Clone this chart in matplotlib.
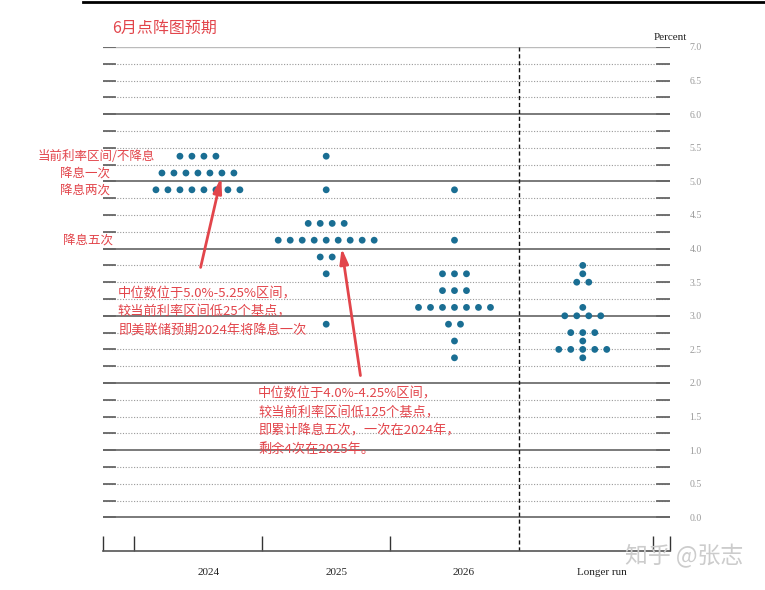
import numpy as np
import matplotlib.pyplot as plt
from matplotlib.lines import Line2D

plt.rcParams['font.family'] = ['Noto Sans CJK SC', 'DejaVu Sans']

# dot plot data: policy rate midpoints and number of participants
years = ["2024", "2025", "2026", "Longer run"]
rates_2024 = [5.375, 5.125, 4.875]
counts_2024 = [4, 7, 8]
rates_2025 = [5.375, 4.875, 4.375, 4.125, 3.875, 3.625, 2.875]
counts_2025 = [1, 1, 4, 9, 2, 1, 1]
rates_2026 = [4.875, 4.125, 3.625, 3.375, 3.125, 2.875, 2.625, 2.375]
counts_2026 = [1, 1, 3, 3, 7, 2, 1, 1]
rates_lr = [3.75, 3.625, 3.5, 3.125, 3.0, 2.75, 2.625, 2.5, 2.375]
counts_lr = [1, 1, 2, 1, 4, 3, 1, 5, 1]

yticks = np.arange(0, 7.01, 0.5)
gridlevels = np.arange(0, 7.01, 0.25)

red = '#e2454b'
dotc = '#1a6e93'

fig = plt.figure(figsize=(7.65, 5.90), dpi=100)
ax = fig.add_axes([103 / 765, 1 - 551 / 590, 567 / 765, 504 / 590])
ax.set_xlim(-0.74, 3.68)
ax.set_ylim(-0.5, 7.0)

# grid lines
ytr = ax.get_yaxis_transform()
for g in gridlevels:
    if g == 7.0:
        ax.axhline(g, color='#bbbbbb', lw=1.0, zorder=1)
    elif abs(g - round(g)) < 1e-9:
        ax.axhline(g, color='#7a7a7a', lw=1.4, zorder=1)
    else:
        ax.axhline(g, color='#999999', lw=0.8, ls=(0, (1, 1.5)), zorder=1)
    ax.plot([0, 0.021], [g, g], color='#666666', lw=1.3, transform=ytr, zorder=1)
    ax.plot([0.977, 1.0], [g, g], color='#666666', lw=1.3, transform=ytr, zorder=1)

# dots
step = 0.0935
all_rates = [rates_2024, rates_2025, rates_2026, rates_lr]
all_counts = [counts_2024, counts_2025, counts_2026, counts_lr]
for i, (rs, cs) in enumerate(zip(all_rates, all_counts)):
    for r, c in zip(rs, cs):
        xs = i + (np.arange(c) - (c - 1) / 2) * step
        ax.scatter(xs, [r] * c, s=24, color=dotc, edgecolors='none', zorder=3)

# separator before longer run
ax.axvline(2.5, color='#111111', lw=1.0, ls=(0, (3, 2)), zorder=2)

# axes styling
for s in ['left', 'right', 'top']:
    ax.spines[s].set_visible(False)
ax.spines['bottom'].set_color('#555555')
ax.spines['bottom'].set_linewidth(1.2)
ax.set_xticks([-0.74, -0.5, 0.5, 1.5, 3.55, 3.68])
ax.set_xticklabels([])
ax.tick_params(axis='x', direction='in', length=11, width=1, color='#333333')
ax.yaxis.tick_right()
ax.set_yticks(yticks)
ax.set_yticklabels([f"{v:.1f}" for v in yticks], family='Liberation Serif',
                   fontsize=7, color='#999999')
ax.tick_params(axis='y', length=0, pad=14)

xtr = ax.get_xaxis_transform()
label_shift = [0.08, 0.08, 0.07, 0.15]
for i, y in enumerate(years):
    ax.text(i + label_shift[i], -0.033, y, transform=xtr, ha='center', va='top',
            family='Liberation Serif', fontsize=8, color='#222222')

fig.text(0.876, 0.936, "Percent", family='Liberation Serif', fontsize=8,
         ha='center', va='center', color='#222222')

# title and labels
fig.text(112 / 765, 1 - 28 / 590, "6月点阵图预期", fontsize=11.5, color=red,
         ha='left', va='center')
ax.text(-0.335, 5.375, "当前利率区间/不降息", fontsize=9, color=red,
        ha='right', va='center', clip_on=False)
ax.text(-0.686, 5.125, "降息一次", fontsize=9, color=red,
        ha='right', va='center', clip_on=False)
ax.text(-0.686, 4.875, "降息两次", fontsize=9, color=red,
        ha='right', va='center', clip_on=False)
ax.text(-0.66, 4.125, "降息五次", fontsize=9, color=red,
        ha='right', va='center', clip_on=False)

ax.text(-0.624, 3.425, "中位数位于5.0%-5.25%区间，\n较当前利率区间低25个基点，\n即美联储预期2024年将降息一次",
        fontsize=9.5, color=red, ha='left', va='top', linespacing=1.55, zorder=4)
ax.text(0.47, 1.935, "中位数位于4.0%-4.25%区间，\n较当前利率区间低125个基点，\n即累计降息五次，一次在2024年，\n剩余4次在2025年。",
        fontsize=9.5, color=red, ha='left', va='top', linespacing=1.55, zorder=4)

ax.annotate("", xy=(0.187, 5.10), xytext=(0.016, 3.68),
            arrowprops=dict(arrowstyle='-|>,head_length=0.9,head_width=0.25',
                            color=red, lw=2), zorder=5)
ax.annotate("", xy=(1.117, 4.05), xytext=(1.27, 2.07),
            arrowprops=dict(arrowstyle='-|>,head_length=0.9,head_width=0.25',
                            color=red, lw=2), zorder=5)

# watermark and top rule
fig.text(0.817, 0.058, "知乎 @张志", fontsize=16.5, color='#cccccc',
         ha='left', va='center')
fig.add_artist(Line2D([83 / 765, 1.0], [0.997, 0.997], color='black', lw=2))

fig.savefig("out.png", dpi=100)
